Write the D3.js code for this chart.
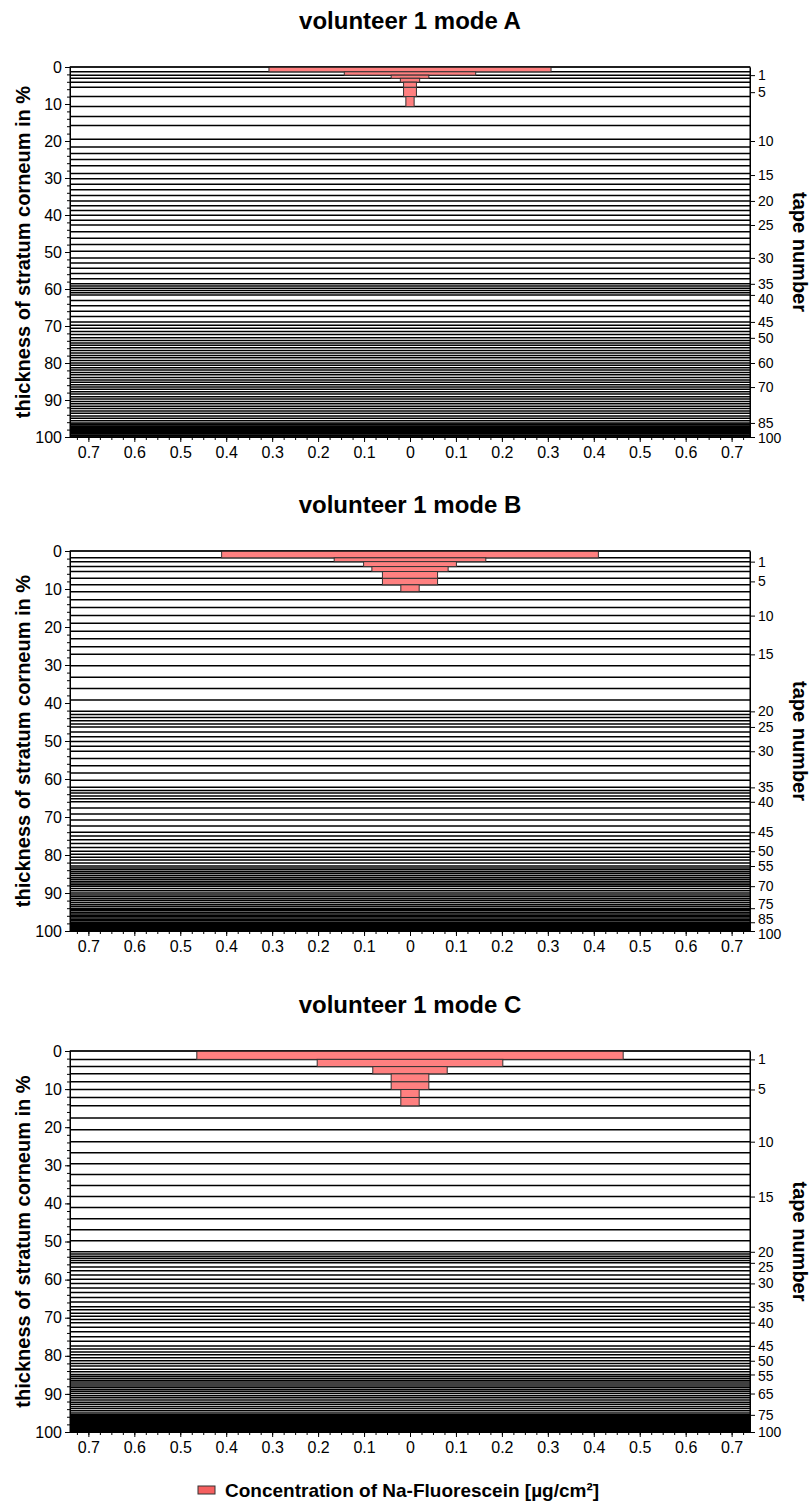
<!DOCTYPE html>
<html>
<head>
<meta charset="utf-8">
<script src="https://cdn.jsdelivr.net/npm/d3@7"></script>
<style>
  body { margin: 0; background: #fff; }
  svg { display: block; font-family: Arial, "Liberation Sans", sans-serif; }
</style>
</head>
<body>
<svg width="810" height="1504"></svg>
<script>
const titles = ['volunteer 1 mode A', 'volunteer 1 mode B', 'volunteer 1 mode C']

// cumulative thickness (%) at the lower edge of every tape
const depthA = [1.3, 2.2, 3.05, 4.1, 5.5, 8.0, 10.7, 13.4, 15.8, 19.5,
  21.6, 23.4, 25.0, 26.7, 28.8, 30.2, 31.7, 33.2, 34.7, 36.2,
  37.5, 38.8, 40.1, 41.4, 42.7, 44.5, 46.3, 48.0, 49.8, 51.6,
  53.0, 54.4, 55.8, 57.2, 58.6, 59.2, 59.8, 60.4, 61.0, 61.6,
  63.1, 64.5, 66.0, 67.4, 68.9, 69.8, 70.6, 71.5, 72.3, 73.2,
  73.9, 74.6, 75.2, 75.9, 76.6, 77.3, 78.0, 78.6, 79.3, 80.0,
  80.6, 81.3, 81.9, 82.6, 83.2, 83.9, 84.6, 85.2, 85.9, 86.5,
  87.1, 87.8, 88.4, 89.1, 89.7, 90.4, 91.0, 91.7, 92.3, 93.0,
  93.6, 94.3, 94.9, 95.6, 96.2, 96.5, 96.7, 97.0, 97.2, 97.5,
  97.7, 98.0, 98.2, 98.5, 98.7, 99.0, 99.2, 99.5, 99.7, 100]
const depthB = [1.8, 2.8, 4.1, 5.4, 7.2, 8.9, 10.7, 12.8, 14.9, 17.0,
  19.0, 21.1, 23.1, 25.2, 27.2, 30.2, 33.2, 36.2, 39.2, 42.2,
  43.0, 43.8, 44.7, 45.5, 46.3, 47.6, 48.9, 50.1, 51.4, 52.7,
  54.6, 56.5, 58.4, 60.3, 62.2, 63.0, 63.7, 64.5, 65.2, 66.0,
  67.6, 69.2, 70.8, 72.4, 74.0, 75.0, 76.0, 77.0, 78.0, 79.0,
  79.8, 80.6, 81.3, 82.1, 82.9, 83.4, 83.9, 84.4, 84.9, 85.4,
  85.9, 86.4, 86.9, 87.4, 87.8, 88.2, 88.8, 89.4, 90.0, 90.5,
  91.0, 91.5, 92.0, 92.5, 93.0, 93.5, 94.0, 94.4, 94.7, 95.1,
  95.5, 95.9, 96.2, 96.6, 97.0, 97.3, 97.7, 97.8, 98.0, 98.2,
  98.3, 98.5, 98.6, 98.8, 98.9, 99.1, 99.2, 99.4, 99.5, 99.7, 99.8, 100]
const depthC = [2.2, 4.1, 6.0, 8.1, 10.1, 12.2, 14.4, 17.6, 20.7, 23.8,
  26.7, 29.6, 32.4, 35.3, 38.2, 41.1, 44.0, 46.9, 49.8, 52.7,
  53.3, 53.9, 54.4, 55.0, 55.6, 56.7, 57.7, 58.8, 59.9, 61.0,
  62.2, 63.4, 64.7, 65.9, 67.1, 67.9, 68.8, 69.6, 70.5, 71.3,
  72.5, 73.7, 75.0, 76.2, 77.4, 78.2, 79.0, 79.7, 80.5, 81.3,
  82.0, 82.7, 83.5, 84.2, 84.9, 85.4, 85.9, 86.4, 86.9, 87.4,
  87.9, 88.4, 88.9, 89.4, 89.9, 90.5, 91.0, 91.6, 92.2, 92.7,
  93.3, 93.8, 94.4, 95.0, 95.5, 95.7, 95.9, 96.1, 96.2, 96.4,
  96.6, 96.8, 97.0, 97.1, 97.3, 97.5, 97.7, 97.8, 98.0, 98.2,
  98.4, 98.6, 98.7, 98.9, 99.1, 99.3, 99.5, 99.6, 99.8, 100]

// Na-Fluorescein concentration of the first tapes [µg/cm²]
const concA = [0.307, 0.143, 0.041, 0.021, 0.014, 0.014, 0.009]
const concB = [0.41, 0.165, 0.101, 0.083, 0.060, 0.060, 0.020]
const concC = [0.464, 0.202, 0.081, 0.041, 0.041, 0.020, 0.020]

// right axis: tape number labels and where they sit (%)
const tapeLabelsA = [1, 5, 10, 15, 20, 25, 30, 35, 40, 45, 50, 60, 70, 85, 100]
const tapePosA = [2.2, 6.8, 20.0, 29.2, 36.2, 42.7, 51.6, 58.6, 61.6, 68.9, 73.2, 80.0, 86.5, 96.2, 100]
const tapeLabelsB = [1, 5, 10, 15, 20, 25, 30, 35, 40, 45, 50, 55, 70, 75, 85, 100]
const tapePosB = [2.8, 8.0, 17.0, 27.2, 42.2, 46.3, 52.7, 62.2, 66.0, 74.0, 79.0, 82.9, 88.2, 94.0, 97.7, 100]
const tapeLabelsC = [1, 5, 10, 15, 20, 25, 30, 35, 40, 45, 50, 55, 65, 75, 100]
const tapePosC = [2.2, 10.1, 23.8, 38.2, 52.7, 55.6, 61.0, 67.1, 71.3, 77.4, 81.3, 84.9, 89.9, 95.5, 100]

const xTicks = [-0.7, -0.6, -0.5, -0.4, -0.3, -0.2, -0.1, 0, 0.1, 0.2, 0.3, 0.4, 0.5, 0.6, 0.7]
const depthTicks = [0, 10, 20, 30, 40, 50, 60, 70, 80, 90, 100]
const legendLabel = 'Concentration of Na-Fluorescein [µg/cm²]'

const panels = [
  { title: titles[0], depth: depthA, conc: concA, labels: tapeLabelsA, pos: tapePosA, top: 67, bottom: 437 },
  { title: titles[1], depth: depthB, conc: concB, labels: tapeLabelsB, pos: tapePosB, top: 551, bottom: 931 },
  { title: titles[2], depth: depthC, conc: concC, labels: tapeLabelsC, pos: tapePosC, top: 1051, bottom: 1432 }
]

const svg = d3.select('svg')
const left = 70, right = 750
const barFill = '#ff8080'
const fontStack = 'Arial, "Liberation Sans", sans-serif'

const x = d3.scaleLinear().domain([-0.74, 0.74]).range([left, right])
const fmt = d3.format('.1~f')

// minor tick values
const xMinor = d3.range(-29, 30).map(i => i * 0.025)
const yMinor = d3.range(0, 101, 2)

function styleAxis(g, size) {
  g.selectAll('text').attr('font-size', size).attr('font-family', fontStack).attr('fill', '#000')
  g.selectAll('line').attr('stroke', '#000')
  g.select('.domain').attr('stroke', '#000')
}

panels.forEach(p => {
  const y = d3.scaleLinear().domain([0, 100]).range([p.top, p.bottom])
  const g = svg.append('g')

  // title
  g.append('text')
    .attr('x', (left + right) / 2)
    .attr('y', p.top - 38)
    .attr('text-anchor', 'middle')
    .attr('font-size', 24)
    .attr('font-weight', 'bold')
    .text(p.title)

  // tape boundary lines
  g.append('g')
    .selectAll('line')
    .data([0].concat(p.depth))
    .enter()
    .append('line')
    .attr('x1', left)
    .attr('x2', right)
    .attr('y1', d => y(d))
    .attr('y2', d => y(d))
    .attr('stroke', '#000')
    .attr('stroke-width', 1.5)

  // concentration bars, symmetric round 0
  g.append('g')
    .selectAll('rect')
    .data(p.conc)
    .enter()
    .append('rect')
    .attr('x', d => x(-d))
    .attr('width', d => x(d) - x(-d))
    .attr('y', (d, i) => y(i === 0 ? 0 : p.depth[i - 1]))
    .attr('height', (d, i) => y(p.depth[i]) - y(i === 0 ? 0 : p.depth[i - 1]))
    .attr('fill', barFill)
    .attr('stroke', '#333')
    .attr('stroke-width', 1)

  // frame
  g.append('rect')
    .attr('x', left).attr('y', p.top)
    .attr('width', right - left).attr('height', p.bottom - p.top)
    .attr('fill', 'none').attr('stroke', '#000').attr('stroke-width', 1)

  // left axis
  const yMinorAxis = g.append('g').attr('transform', `translate(${left},0)`)
    .call(d3.axisLeft(y).tickValues(yMinor).tickSize(3).tickSizeOuter(0).tickFormat(''))
  styleAxis(yMinorAxis, 16)
  const yAxis = g.append('g').attr('transform', `translate(${left},0)`)
    .call(d3.axisLeft(y).tickValues(depthTicks).tickSize(5).tickSizeOuter(0).tickPadding(3))
  styleAxis(yAxis, 16)

  // bottom axis
  const xMinorAxis = g.append('g').attr('transform', `translate(0,${p.bottom})`)
    .call(d3.axisBottom(x).tickValues(xMinor).tickSize(3).tickSizeOuter(0).tickFormat(''))
  styleAxis(xMinorAxis, 16)
  const xAxis = g.append('g').attr('transform', `translate(0,${p.bottom})`)
    .call(d3.axisBottom(x).tickValues(xTicks).tickSize(5).tickSizeOuter(0).tickPadding(5)
      .tickFormat(d => fmt(Math.abs(d))))
  styleAxis(xAxis, 16)

  // right axis: tape numbers
  const rAxis = g.append('g').attr('transform', `translate(${right},0)`)
    .call(d3.axisRight(y).tickValues(p.pos).tickSize(5).tickSizeOuter(0).tickPadding(3)
      .tickFormat((d, i) => p.labels[i]))
  styleAxis(rAxis, 14)

  // nudge crowded tape labels apart, the ticks stay put
  const ys = p.pos.map(d => y(d))
  const adj = ys.slice()
  const gap = 15
  for (let i = 1; i < adj.length; i++) adj[i] = Math.max(adj[i], adj[i - 1] + gap)
  const n = adj.length
  adj[n - 1] = Math.min(adj[n - 1], ys[n - 1] + 3)
  for (let i = n - 2; i >= 0; i--) adj[i] = Math.min(adj[i], adj[i + 1] - gap)
  rAxis.selectAll('.tick text').attr('y', (d, i) => adj[i] - ys[i])

  // axis titles
  const mid = (p.top + p.bottom) / 2
  g.append('text')
    .attr('transform', `translate(23,${mid}) rotate(-90)`)
    .attr('text-anchor', 'middle')
    .attr('dominant-baseline', 'central')
    .attr('font-size', 20)
    .attr('font-weight', 'bold')
    .text('thickness of stratum corneum in %')

  g.append('text')
    .attr('transform', `translate(800,${mid}) rotate(90)`)
    .attr('text-anchor', 'middle')
    .attr('dominant-baseline', 'central')
    .attr('font-size', 20)
    .attr('font-weight', 'bold')
    .text('tape number')
})

// legend
const legend = svg.append('g').attr('transform', 'translate(198,1490)')
legend.append('rect')
  .attr('x', 0).attr('y', -4)
  .attr('width', 17).attr('height', 8)
  .attr('fill', '#f55f5f').attr('stroke', '#333').attr('stroke-width', 1)
legend.append('text')
  .attr('x', 27).attr('y', 0)
  .attr('dominant-baseline', 'central')
  .attr('font-size', 19)
  .attr('font-weight', 'bold')
  .text(legendLabel)
</script>
</body>
</html>
